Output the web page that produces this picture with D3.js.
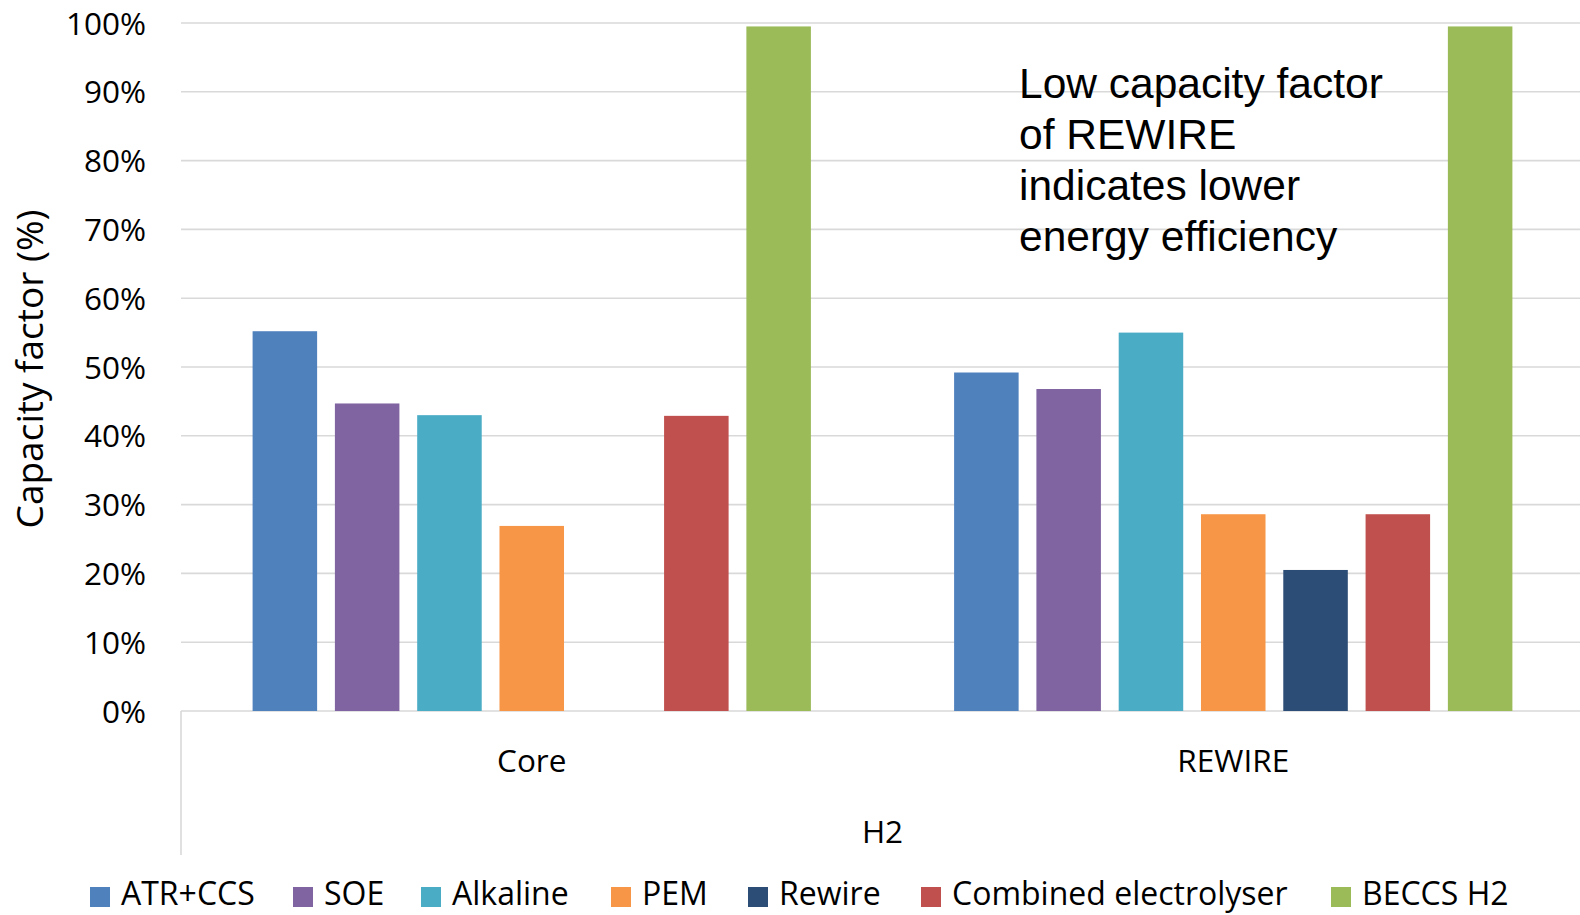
<!DOCTYPE html>
<html>
<head>
<meta charset="utf-8">
<script src="https://cdn.jsdelivr.net/npm/d3@7"></script>
<style>
  html, body { margin: 0; padding: 0; background: #fff; }
  svg { display: block; }
</style>
</head>
<body>
<svg id="chart" width="1580" height="915"></svg>
<script>
// Capacity factor of H2 production technologies per scenario
const scenarios = ["Core", "REWIRE"];
const technologies = ["ATR+CCS", "SOE", "Alkaline", "PEM", "Rewire", "Combined electrolyser", "BECCS H2"];
const colors = ["#4F81BD", "#8064A2", "#4BACC6", "#F79646", "#2C4D75", "#C0504D", "#9BBB59"];
// values in %, null = no bar
const coreValues = [55.2, 44.7, 43.0, 26.9, null, 42.9, 99.5];
const rewireValues = [49.2, 46.8, 55.0, 28.6, 20.5, 28.6, 99.5];
const yTicks = [0, 10, 20, 30, 40, 50, 60, 70, 80, 90, 100];
const groupLabel = "H2";
const yTitle = "Capacity factor (%)";
const noteLines = ["Low capacity factor", "of REWIRE", "indicates lower", "energy efficiency"];

const svg = d3.select("#chart");
const font = "'Open Sans', 'Noto Sans', sans-serif";

const plotLeft = 181, plotRight = 1584, plotTop = 23, plotBottom = 711;

const x0 = d3.scaleBand().domain(scenarios).range([plotLeft, plotRight]).padding(0);
const x1 = d3.scaleBand().domain(technologies)
  .range([71.6, x0.bandwidth() - 71.6]).paddingInner(0.216).paddingOuter(0);
const y = d3.scaleLinear().domain([0, 100]).range([plotBottom, plotTop]);

// gridlines
svg.append("g").selectAll("line").data(yTicks).join("line")
  .attr("x1", plotLeft).attr("x2", plotRight)
  .attr("y1", d => y(d)).attr("y2", d => y(d))
  .attr("stroke", "#d9d9d9").attr("stroke-width", 1.6);

// y-axis tick labels
const yAxis = d3.axisLeft(y).tickValues(yTicks).tickFormat(d => d + "%").tickSize(0).tickPadding(0);
const gy = svg.append("g").attr("transform", `translate(146,0)`).call(yAxis);
gy.select(".domain").remove();
gy.selectAll("text").attr("font-family", font).attr("font-size", 31.5).attr("fill", "#000").attr("dy", "0.35em");

// y-axis title
svg.append("text")
  .attr("transform", `translate(43,${(plotTop + plotBottom) / 2 + 2}) rotate(-90)`)
  .attr("text-anchor", "middle").attr("font-family", font).attr("font-size", 37).attr("fill", "#000")
  .text(yTitle);

// category axis frame
svg.append("line").attr("x1", plotLeft).attr("x2", plotLeft).attr("y1", plotBottom).attr("y2", 855)
  .attr("stroke", "#d9d9d9").attr("stroke-width", 1.6);

// bars
const seriesByScenario = { "Core": coreValues, "REWIRE": rewireValues };
const groups = svg.append("g").selectAll("g").data(scenarios).join("g")
  .attr("transform", d => `translate(${x0(d)},0)`);
groups.selectAll("rect")
  .data(s => technologies.map((t, i) => ({ t, i, v: seriesByScenario[s][i] })).filter(d => d.v != null))
  .join("rect")
  .attr("x", d => x1(d.t)).attr("width", x1.bandwidth())
  .attr("y", d => y(d.v)).attr("height", d => y(0) - y(d.v))
  .attr("fill", d => colors[d.i]);

// scenario labels
svg.append("g").selectAll("text").data(scenarios).join("text")
  .attr("x", d => x0(d) + x0.bandwidth() / 2).attr("y", 761).attr("dy", "0.35em")
  .attr("text-anchor", "middle").attr("font-family", font).attr("font-size", 31.5).attr("fill", "#000")
  .text(d => d);

// group label
svg.append("text").attr("x", (plotLeft + plotRight) / 2).attr("y", 832).attr("dy", "0.35em")
  .attr("text-anchor", "middle").attr("font-family", font).attr("font-size", 31.5).attr("fill", "#000")
  .text(groupLabel);

// annotation
svg.append("g").selectAll("text").data(noteLines).join("text")
  .attr("x", 1019).attr("y", (d, i) => 83 + i * 51).attr("dy", "0.35em")
  .attr("font-family", "'Liberation Sans', Arial, sans-serif").attr("font-size", 42.5).attr("fill", "#000")
  .text(d => d);

// legend
const legendX = [90, 293, 421, 611, 748, 921, 1331];
const legend = svg.append("g").selectAll("g").data(technologies).join("g")
  .attr("transform", (d, i) => `translate(${legendX[i]},896)`);
legend.append("rect").attr("x", 0).attr("y", -9).attr("width", 20).attr("height", 20)
  .attr("fill", (d, i) => colors[i]);
legend.append("text").attr("x", 31).attr("y", 9)
  .attr("font-family", font).attr("font-size", 32).attr("fill", "#000")
  .text(d => d);
</script>
</body>
</html>
